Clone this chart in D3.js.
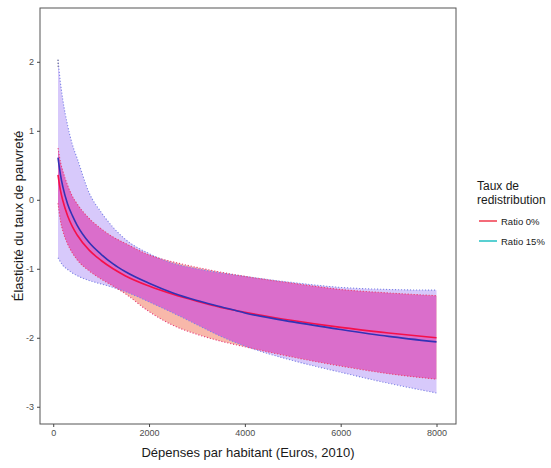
<!DOCTYPE html>
<html><head><meta charset="utf-8">
<script src="https://cdn.jsdelivr.net/npm/d3@7"></script>
<style>body{margin:0;background:#fff}svg{display:block}</style>
</head><body>
<svg id="c" width="551" height="468"></svg>
<script>
// ---- data ----
const spend = [100,150,200,300,400,500,750,1000,1250,1500,2000,2500,3000,3500,4000,5000,6000,7000,8000];
const ratio0 = [0.36,0.14,-0.01,-0.23,-0.39,-0.51,-0.73,-0.88,-1.00,-1.10,-1.25,-1.37,-1.47,-1.56,-1.63,-1.75,-1.85,-1.93,-2.00];
const ratio0Upper = [0.75,0.55,0.42,0.21,0.05,-0.06,-0.27,-0.42,-0.54,-0.63,-0.80,-0.90,-0.98,-1.05,-1.11,-1.21,-1.30,-1.35,-1.39];
const ratio0Lower = [-0.05,-0.30,-0.45,-0.64,-0.77,-0.87,-1.03,-1.15,-1.25,-1.36,-1.62,-1.82,-1.95,-2.05,-2.13,-2.28,-2.41,-2.52,-2.60];
const ratio15 = [0.61,0.37,0.19,-0.06,-0.23,-0.37,-0.62,-0.79,-0.93,-1.04,-1.21,-1.35,-1.46,-1.55,-1.64,-1.77,-1.88,-1.98,-2.06];
const ratio15Upper = [2.03,1.70,1.45,1.08,0.80,0.60,0.10,-0.18,-0.40,-0.57,-0.78,-0.92,-1.00,-1.06,-1.11,-1.20,-1.27,-1.30,-1.31];
const ratio15Lower = [-0.84,-0.90,-0.95,-1.01,-1.06,-1.10,-1.17,-1.22,-1.27,-1.33,-1.48,-1.64,-1.81,-1.98,-2.12,-2.33,-2.50,-2.66,-2.80];
const xTicks = [0,2000,4000,6000,8000];
const yTicks = [-3,-2,-1,0,1,2];
const legendTitle = ["Taux de","redistribution"];
const legendLabels = ["Ratio 0%","Ratio 15%"];
const legendColors = ["#f03a4c","#22c1c3"];

const svg = d3.select("#c");
const L=40,R=456,T=8,B=424;
const x = d3.scaleLinear().domain([-276,8407]).range([L,R]);
const y = d3.scaleLinear().domain([-3.25,2.78]).range([B,T]);
const font = "'Liberation Sans', Arial, Helvetica, sans-serif";

const rows = (m,lo,hi)=>spend.map((s,i)=>({x:s,m:m[i],lo:lo[i],hi:hi[i]}));
const red = rows(ratio0,ratio0Lower,ratio0Upper);
const pur = rows(ratio15,ratio15Lower,ratio15Upper);
const curve = d3.curveMonotoneX;
const area = d3.area().x(d=>x(d.x)).y0(d=>y(d.lo)).y1(d=>y(d.hi)).curve(curve);
const lineM = d3.line().x(d=>x(d.x)).y(d=>y(d.m)).curve(curve);
const lineLo = d3.line().x(d=>x(d.x)).y(d=>y(d.lo)).curve(curve);
const lineHi = d3.line().x(d=>x(d.x)).y(d=>y(d.hi)).curve(curve);

svg.append("defs").append("clipPath").attr("id","purclip")
  .append("path").attr("d",area(pur));

const g = svg.append("g");
g.append("path").attr("d",area(pur)).attr("fill","#d7c9fb");
g.append("path").attr("d",area(red)).attr("fill","#f8b8aa");
g.append("path").attr("d",area(red)).attr("fill","#da6ecb").attr("clip-path","url(#purclip)");

// dotted ribbon edges
[[pur,"#7f86e6"],[red,"#e8407c"]].forEach(([d,c])=>{
  [lineLo,lineHi].forEach(f=>{
    g.append("path").attr("d",f(d)).attr("fill","none").attr("stroke",c)
     .attr("stroke-width",1.1).attr("stroke-dasharray","1.2,1.8");
  });
});
g.append("line").attr("x1",x(spend[0])).attr("x2",x(spend[0]))
  .attr("y1",y(ratio15Upper[0])).attr("y2",y(ratio15Upper[0])+8)
  .attr("stroke","#666").attr("stroke-width",1).attr("stroke-dasharray","1,2");

g.append("path").attr("d",lineM(red)).attr("fill","none").attr("stroke","#f5104a").attr("stroke-width",1.6);
g.append("path").attr("d",lineM(pur)).attr("fill","none").attr("stroke","#3232b6").attr("stroke-width",1.6);

// panel border
svg.append("rect").attr("x",L).attr("y",T).attr("width",R-L).attr("height",B-T)
  .attr("fill","none").attr("stroke","#555").attr("stroke-width",1);

// axes
const xa = svg.append("g").attr("transform",`translate(0,${B})`)
  .call(d3.axisBottom(x).tickValues(xTicks).tickSize(3).tickPadding(3).tickFormat(d=>String(d)));
const ya = svg.append("g").attr("transform",`translate(${L},0)`)
  .call(d3.axisLeft(y).tickValues(yTicks).tickSize(3).tickPadding(3).tickFormat(d=>String(d)));
[xa,ya].forEach(a=>{
  a.select(".domain").remove();
  a.selectAll(".tick line").attr("stroke","#444");
  a.selectAll(".tick text").attr("fill","#4d4d4d").style("font-family",font).style("font-size","9px");
});

svg.append("text").attr("x",248).attr("y",457).attr("text-anchor","middle")
  .style("font-family",font).style("font-size","13px").attr("fill","#1a1a1a")
  .text("Dépenses par habitant (Euros, 2010)");
svg.append("text").attr("transform","translate(23,216) rotate(-90)").attr("text-anchor","middle")
  .style("font-family",font).style("font-size","13px").attr("fill","#1a1a1a")
  .text("Élasticité du taux de pauvreté");

// legend
const lg = svg.append("g");
legendTitle.forEach((t,i)=>lg.append("text").attr("x",477).attr("y",190+i*14)
  .style("font-family",font).style("font-size","12px").attr("fill","#1a1a1a").text(t));
legendLabels.forEach((t,i)=>{
  const yy = 221+i*20;
  lg.append("line").attr("x1",479).attr("x2",497).attr("y1",yy).attr("y2",yy)
    .attr("stroke",legendColors[i]).attr("stroke-width",1.5);
  lg.append("text").attr("x",501).attr("y",yy+3.5)
    .style("font-family",font).style("font-size","9.5px").attr("fill","#1a1a1a").text(t);
});
</script>
</body></html>
